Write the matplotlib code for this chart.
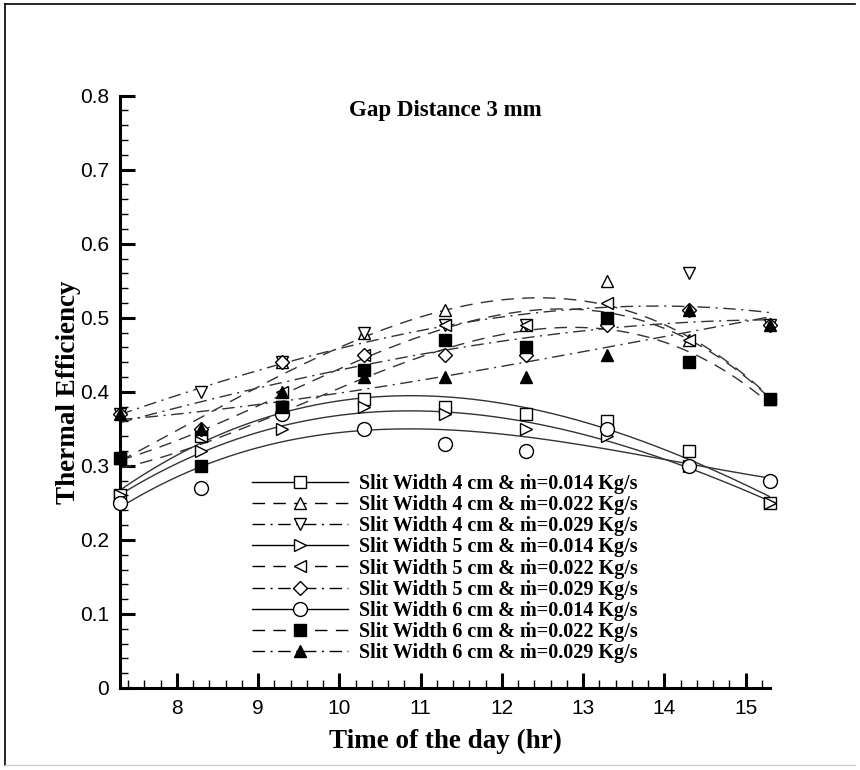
import matplotlib.pyplot as plt
import numpy as np
from matplotlib.lines import Line2D
from matplotlib.ticker import MultipleLocator

# hours at which efficiency was measured
hours = [7.3, 8.3, 9.3, 10.3, 11.3, 12.3, 13.3, 14.3, 15.3]

# thermal efficiency, gap distance 3 mm
sw4_014 = [0.26, 0.34, 0.38, 0.39, 0.38, 0.37, 0.36, 0.32, 0.25]
sw4_022 = [0.31, 0.35, 0.44, 0.48, 0.51, 0.49, 0.55, 0.47, 0.39]
sw4_029 = [0.37, 0.40, 0.44, 0.48, 0.49, 0.49, 0.49, 0.56, 0.49]
sw5_014 = [0.26, 0.32, 0.35, 0.38, 0.37, 0.35, 0.34, 0.30, 0.25]
sw5_022 = [0.31, 0.34, 0.40, 0.45, 0.49, 0.49, 0.52, 0.47, 0.39]
sw5_029 = [0.37, 0.35, 0.44, 0.45, 0.45, 0.45, 0.49, 0.51, 0.49]
sw6_014 = [0.25, 0.27, 0.37, 0.35, 0.33, 0.32, 0.35, 0.30, 0.28]
sw6_022 = [0.31, 0.30, 0.38, 0.43, 0.47, 0.46, 0.50, 0.44, 0.39]
sw6_029 = [0.37, 0.35, 0.40, 0.42, 0.42, 0.42, 0.45, 0.51, 0.49]

labels = [
    "Slit Width 4 cm & \u1e41=0.014 Kg/s",
    "Slit Width 4 cm & \u1e41=0.022 Kg/s",
    "Slit Width 4 cm & \u1e41=0.029 Kg/s",
    "Slit Width 5 cm & \u1e41=0.014 Kg/s",
    "Slit Width 5 cm & \u1e41=0.022 Kg/s",
    "Slit Width 5 cm & \u1e41=0.029 Kg/s",
    "Slit Width 6 cm & \u1e41=0.014 Kg/s",
    "Slit Width 6 cm & \u1e41=0.022 Kg/s",
    "Slit Width 6 cm & \u1e41=0.029 Kg/s",
]

series = [sw4_014, sw4_022, sw4_029, sw5_014, sw5_022, sw5_029,
          sw6_014, sw6_022, sw6_029]
markers = ["s", "^", "v", ">", "<", "D", "o", "s", "^"]
filled = [False] * 7 + [True, True]
dashes = ["-", (0, (9, 6)), (0, (9, 4, 1.5, 4))] * 3
msizes = [8, 9, 9, 9, 9, 7, 10, 8, 9]

serif = ["Liberation Serif", "DejaVu Serif"]

fig = plt.figure(figsize=(8.6, 7.7), dpi=100)
ax = fig.add_axes([0.1395, 0.1065, 0.7558, 0.7693])

x = np.array(hours)
xs = np.linspace(x[0], x[-1], 200)
handles = []
for ys, mk, fl, ls, ms, lab in zip(series, markers, filled, dashes, msizes, labels):
    # cubic trend line through the measured points
    fit = np.polyval(np.polyfit(x, ys, 3), xs)
    ax.plot(xs, fit, color="#333333", lw=1.0, linestyle=ls, zorder=2)
    ax.plot(x, ys, linestyle="none", marker=mk, markersize=ms,
            markerfacecolor="black" if fl else "white",
            markeredgecolor="black", markeredgewidth=1.0, zorder=3,
            clip_on=False)
    h, = ax.plot([], [], color="black", lw=1.0, linestyle=ls, marker=mk,
                 markersize=ms, markerfacecolor="black" if fl else "white",
                 markeredgecolor="black", markeredgewidth=1.0)
    handles.append(h)

ax.set_xlim(7.3, 15.3)
ax.set_ylim(0, 0.8)
ax.xaxis.set_major_locator(MultipleLocator(1))
ax.xaxis.set_minor_locator(MultipleLocator(0.2))
ax.yaxis.set_major_locator(MultipleLocator(0.1))
ax.yaxis.set_minor_locator(MultipleLocator(0.02))
ax.set_yticks(np.arange(0, 0.81, 0.1))
ax.set_yticklabels(["0"] + ["%.1f" % v for v in np.arange(0.1, 0.81, 0.1)])

for s in ["top", "right"]:
    ax.spines[s].set_visible(False)
for s in ["left", "bottom"]:
    ax.spines[s].set_linewidth(2.2)

ax.tick_params(which="major", direction="in", length=11, width=2.2,
               labelsize=15, pad=8)
ax.tick_params(which="minor", direction="in", length=6, width=1.0)
for t in ax.get_xticklabels() + ax.get_yticklabels():
    t.set_family(["Liberation Sans", "DejaVu Sans"])

ax.set_xlabel("Time of the day (hr)", fontsize=19.5, fontweight="bold",
              family=serif, labelpad=8)
ax.set_ylabel("Thermal Efficiency", fontsize=19.5, fontweight="bold",
              family=serif, labelpad=-1)
ax.text(0.5, 0.975, "Gap Distance 3 mm", transform=ax.transAxes,
        ha="center", va="center", fontsize=16.5, fontweight="bold",
        family=serif)

ax.legend(handles, labels, loc="lower left", bbox_to_anchor=(0.19, 0.028),
          frameon=False, handlelength=4.8, handletextpad=0.55,
          labelspacing=0.06, borderaxespad=0,
          prop={"family": serif, "weight": "bold", "size": 14.5})

# page border: dark top and left edges, faint bottom edge
fig.add_artist(Line2D([0.006, 0.994], [0.995, 0.995], color="black",
                      lw=1.2, transform=fig.transFigure))
fig.add_artist(Line2D([0.006, 0.006], [0.006, 0.995], color="black",
                      lw=1.2, transform=fig.transFigure))
fig.add_artist(Line2D([0.006, 0.994], [0.006, 0.006], color="#cccccc",
                      lw=1.0, transform=fig.transFigure))

fig.savefig("out.png", dpi=100)
